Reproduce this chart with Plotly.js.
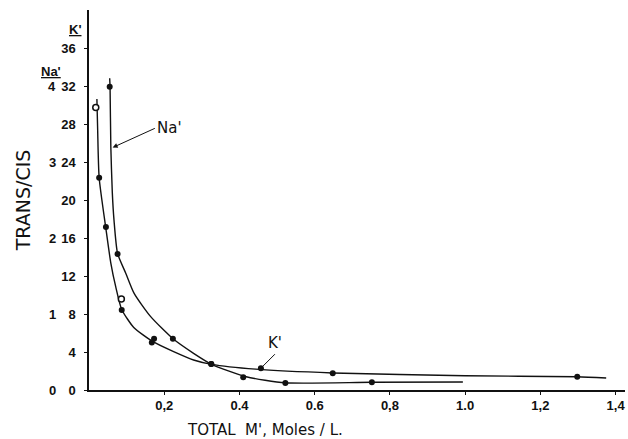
<!DOCTYPE html>
<html>
<head>
<meta charset="utf-8">
<script src="https://cdn.plot.ly/plotly-3.0.1.min.js"></script>
<style>html,body{margin:0;padding:0;background:#fff;}#chart{width:628px;height:439px;}</style>
</head>
<body>
<div id="chart"></div>
<script>
// ---- data ----
// K' curve (left steep curve, flattens out to 1.4 M)
const kPointsX = [0.018, 0.027, 0.045, 0.087, 0.167, 0.173, 0.325, 0.457, 0.648, 1.298];
const kPointsY = [29.8, 22.4, 17.2, 8.45, 5.0, 5.4, 2.75, 2.3, 1.76, 1.4];
const kOpenX = [0.018, 0.086];
const kOpenY = [29.8, 9.6];
const kCurveX = [0.021, 0.023, 0.027, 0.045, 0.058, 0.071, 0.087, 0.119, 0.17, 0.225, 0.278, 0.326, 0.443, 0.648, 1.0, 1.298, 1.375];
const kCurveY = [30.7, 27.5, 22.4, 17.0, 13.4, 10.9, 8.5, 6.6, 5.1, 4.05, 3.17, 2.71, 2.2, 1.8, 1.5, 1.4, 1.27];
// Na' curve (right steep curve, ends at 1.0 M)
const naPointsX = [0.055, 0.076, 0.223, 0.325, 0.41, 0.522, 0.752];
const naPointsY = [32.0, 14.36, 5.4, 2.75, 1.35, 0.74, 0.81];
const naCurveX = [0.055, 0.056, 0.058, 0.062, 0.0664, 0.076, 0.098, 0.12, 0.164, 0.225, 0.278, 0.326, 0.418, 0.522, 0.752, 0.994];
const naCurveY = [32.9, 32.0, 25.7, 20.8, 17.95, 14.4, 12.3, 10.2, 7.74, 5.35, 3.87, 2.71, 1.4, 0.76, 0.81, 0.84];
// axis ticks
const kTickVals = [0, 4, 8, 12, 16, 20, 24, 28, 32, 36];
const kTickText = ["0", "4", "8", "12", "16", "20", "24", "28", "32", "36"];
const naTickVals = [0, 8, 16, 24, 32];
const naTickText = ["0", "1", "2", "3", "4"];
const xTickVals = [0.2, 0.4, 0.6, 0.8, 1.0, 1.2, 1.4];
const xTickText = ["0,2", "0.4", "0.6", "0,8", "1.0", "1,2", "1,4"];

const ink = "#111";
const bold = {family: "Liberation Sans, Arial, sans-serif", size: 13, color: ink, weight: "bold"};
const traces = [
  {x: kCurveX, y: kCurveY, mode: "lines", line: {color: ink, width: 1.4, shape: "spline", smoothing: 0.6}, hoverinfo: "skip"},
  {x: naCurveX, y: naCurveY, mode: "lines", line: {color: ink, width: 1.4, shape: "spline", smoothing: 0.6}, hoverinfo: "skip"},
  {x: kPointsX, y: kPointsY, mode: "markers", marker: {color: ink, size: 6}},
  {x: kOpenX, y: kOpenY, mode: "markers", marker: {color: "#fff", size: 6, line: {color: ink, width: 1.5}}},
  {x: naPointsX, y: naPointsY, mode: "markers", marker: {color: ink, size: 6}}
];

const annotations = [];
naTickVals.forEach((v, i) => {
  annotations.push({xref: "paper", yref: "y", x: 0, y: v, xshift: -37, xanchor: "center", yanchor: "middle",
    text: naTickText[i], showarrow: false, font: bold});
});
annotations.push({xref: "paper", yref: "y", x: 0, y: 38.0, xshift: -14, xanchor: "center", yanchor: "middle",
  text: "<u>K'</u>", showarrow: false, font: bold});
annotations.push({xref: "paper", yref: "y", x: 0, y: 33.6, xshift: -38, xanchor: "center", yanchor: "middle",
  text: "<u>Na'</u>", showarrow: false, font: bold});
annotations.push({x: 0.058, y: 25.5, ax: 44, ay: -20, xref: "x", yref: "y", text: "Na'", showarrow: true,
  arrowhead: 2, arrowsize: 1, arrowwidth: 1, arrowcolor: ink, xanchor: "left", standoff: 2,
  font: {family: "DejaVu Sans, sans-serif", size: 15, color: ink}});
annotations.push({x: 0.457, y: 2.3, ax: 14, ay: -14, xref: "x", yref: "y", text: "K'", showarrow: true,
  arrowhead: 0, arrowwidth: 1, arrowcolor: ink, yanchor: "bottom", standoff: 1,
  font: {family: "DejaVu Sans, sans-serif", size: 15, color: ink}});
annotations.push({xref: "paper", yref: "paper", x: 0, xshift: 96, y: 0, yshift: -40, xanchor: "left", yanchor: "middle",
  text: "TOTAL  M', Moles / L.", showarrow: false, font: {family: "DejaVu Sans, sans-serif", size: 15, color: ink}});

const layout = {
  width: 628, height: 439,
  margin: {l: 89, r: 3, t: 10, b: 49},
  paper_bgcolor: "#fff", plot_bgcolor: "#fff",
  showlegend: false,
  xaxis: {range: [0, 1.425], tickvals: xTickVals, ticktext: xTickText, showgrid: false, zeroline: false,
    showline: true, linecolor: ink, linewidth: 1.6, ticks: "outside", ticklen: 3, tickcolor: ink,
    ticklabeloverflow: "allow", tickfont: bold},
  yaxis: {range: [0, 40.1], tickvals: kTickVals, ticktext: kTickText, showgrid: false, zeroline: false,
    showline: true, linecolor: ink, linewidth: 1.6, ticks: "outside", ticklen: 3, tickcolor: ink,
    ticklabelstandoff: 6, tickfont: bold,
    title: {text: "TRANS/CIS", standoff: 25, font: {family: "DejaVu Sans, sans-serif", size: 19, color: ink}}},
  annotations: annotations
};
Plotly.newPlot("chart", traces, layout, {displayModeBar: false, staticPlot: true});
</script>
</body>
</html>
